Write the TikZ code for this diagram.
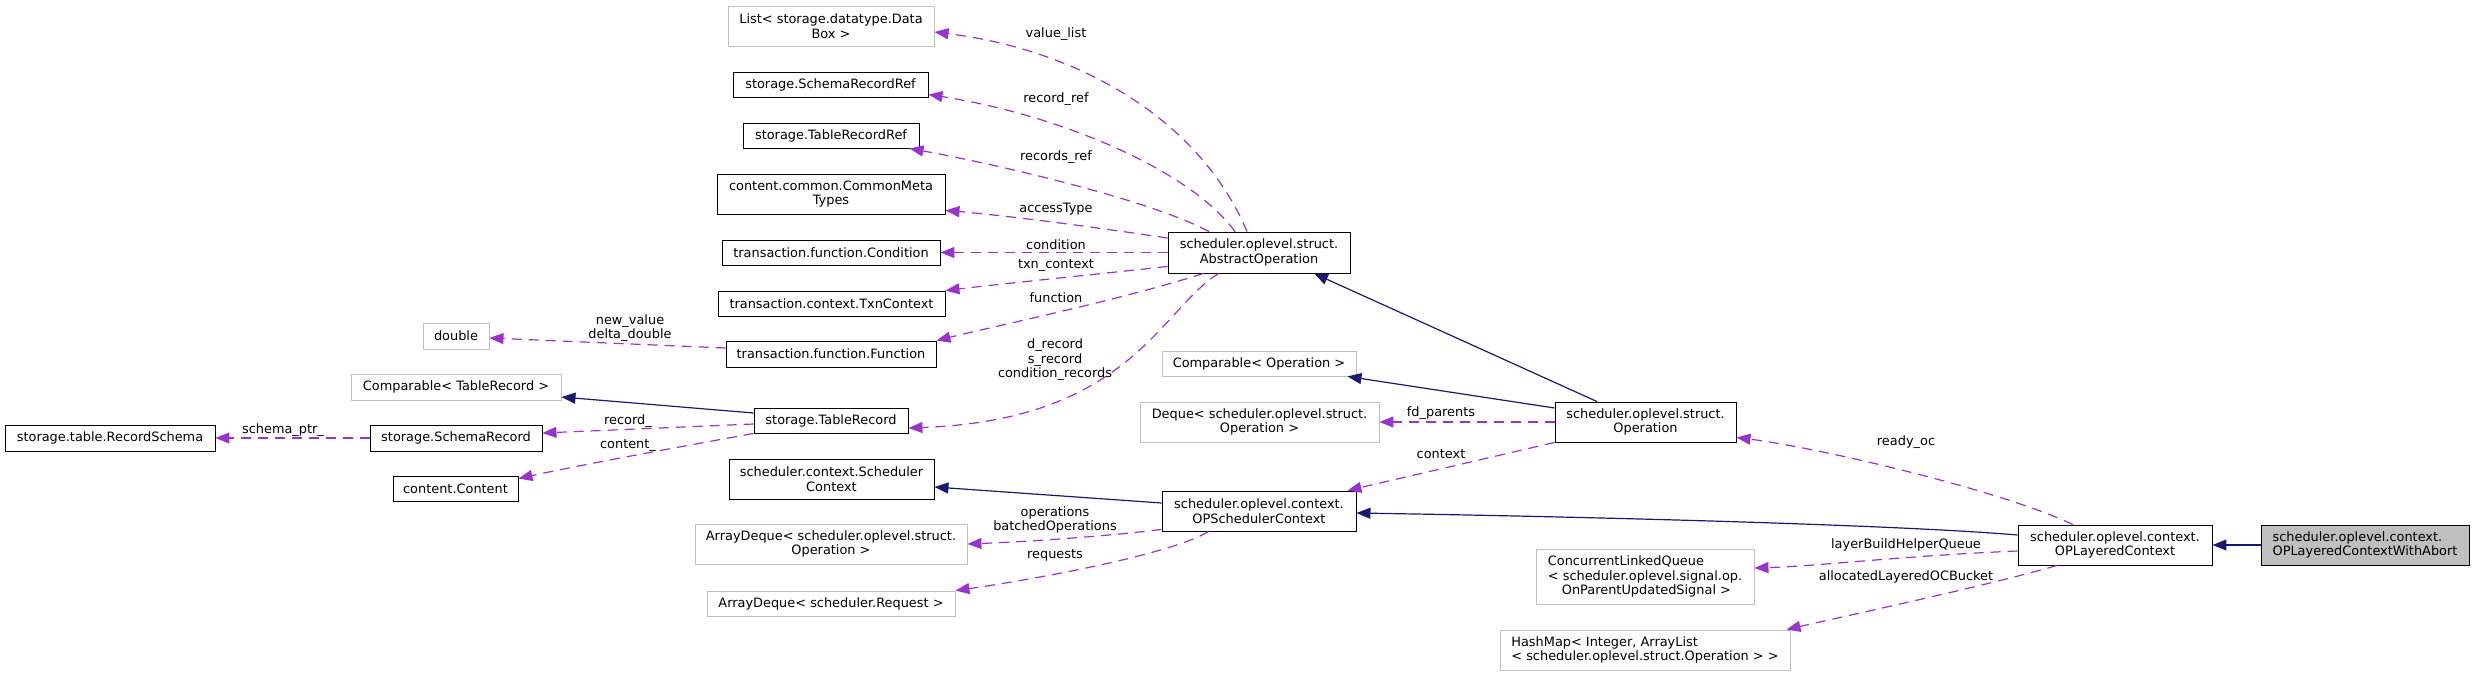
\documentclass[tikz,border=0pt]{standalone}
\usepackage{fontspec}
\setmainfont{DejaVu Sans}
\usetikzlibrary{arrows.meta}
\definecolor{usecol}{HTML}{9A32CD}
\definecolor{inhcol}{HTML}{191970}
\definecolor{grayb}{HTML}{BFBFBF}
\tikzset{
  cls/.style={draw=black, line width=0.9pt, fill=white, inner sep=0pt, align=center, font=\fontsize{12.9}{14.5}\selectfont},
  ucls/.style={cls, draw=grayb},
  maincls/.style={cls, fill=grayb},
  uses/.style={draw=usecol, line width=1.2pt, dash pattern=on 10pt off 7pt, -{Triangle[length=14pt,width=11pt,fill=usecol]}},
  inh/.style={draw=inhcol, line width=1.2pt, -{Triangle[length=14pt,width=11pt,fill=inhcol]}},
  lbl/.style={inner sep=0pt, align=center, font=\fontsize{12.9}{14.5}\selectfont}
}
\begin{document}
\begin{tikzpicture}[x=1pt,y=-1pt]
\useasboundingbox (0,0) rectangle (2475,676);
% nodes
\node[ucls, minimum width=206pt, minimum height=40pt] (list) at (831,26) {List< storage.datatype.Data\\Box >};
\node[cls, minimum width=195pt, minimum height=25pt] (srr) at (830.5,84.5) {storage.SchemaRecordRef};
\node[cls, minimum width=176pt, minimum height=25pt] (trr) at (831,135.5) {storage.TableRecordRef};
\node[cls, minimum width=228pt, minimum height=40pt] (cmt) at (831,194) {content.common.CommonMeta\\Types};
\node[cls, minimum width=218pt, minimum height=25pt] (cond) at (831,252.5) {transaction.function.Condition};
\node[cls, minimum width=227pt, minimum height=25pt] (txn) at (831.5,303.5) {transaction.context.TxnContext};
\node[ucls, minimum width=66pt, minimum height=26pt] (dbl) at (456,336) {double};
\node[cls, minimum width=210pt, minimum height=26pt] (func) at (831,354) {transaction.function.Function};
\node[ucls, minimum width=210pt, minimum height=26pt] (cmptr) at (456,387) {Comparable< TableRecord >};
\node[cls, minimum width=154pt, minimum height=25pt] (tr) at (831,420.5) {storage.TableRecord};
\node[cls, minimum width=210pt, minimum height=26pt] (rs) at (110,438) {storage.table.RecordSchema};
\node[cls, minimum width=172pt, minimum height=26pt] (sr) at (456,438) {storage.SchemaRecord};
\node[cls, minimum width=125pt, minimum height=25pt] (cont) at (455.5,488.5) {content.Content};
\node[cls, minimum width=205pt, minimum height=40pt] (sc) at (831.5,479) {scheduler.context.Scheduler\\Context};
\node[ucls, minimum width=272pt, minimum height=40pt] (adop) at (831,544) {ArrayDeque< scheduler.oplevel.struct.\\Operation >};
\node[ucls, minimum width=248pt, minimum height=25pt] (adreq) at (831,603.5) {ArrayDeque< scheduler.Request >};
\node[cls, minimum width=182pt, minimum height=41pt] (ao) at (1259,252.5) {scheduler.oplevel.struct.\\AbstractOperation};
\node[ucls, minimum width=194pt, minimum height=25pt] (cmpop) at (1259,363.5) {Comparable< Operation >};
\node[ucls, minimum width=239pt, minimum height=40pt] (deq) at (1259.5,422) {Deque< scheduler.oplevel.struct.\\Operation >};
\node[cls, minimum width=181pt, minimum height=40pt] (op) at (1645.5,422) {scheduler.oplevel.struct.\\Operation};
\node[cls, minimum width=194pt, minimum height=40pt] (opsc) at (1259,511) {scheduler.oplevel.context.\\OPSchedulerContext};
\node[ucls, minimum width=218pt, minimum height=55pt, align=left] (clq) at (1645,576.5) {ConcurrentLinkedQueue\\< scheduler.oplevel.signal.op.\\\hspace*{14pt}OnParentUpdatedSignal >};
\node[ucls, minimum width=290pt, minimum height=40pt, align=left] (hm) at (1645,650) {HashMap< Integer, ArrayList\\< scheduler.oplevel.struct.Operation > >};
\node[cls, minimum width=194pt, minimum height=40pt] (olc) at (2115,545) {scheduler.oplevel.context.\\OPLayeredContext};
\node[maincls, minimum width=208pt, minimum height=40pt, align=left] (olcwa) at (2365,545) {scheduler.oplevel.context.\\OPLayeredContextWithAbort};
% AbstractOperation uses
\draw[uses] ([xshift=-12pt]ao.north) .. controls (1200,120) and (1080,50) .. ([yshift=-6pt]list.east);
\node[lbl] (l1) at (1056,34) {value\_list};
\draw[uses] ([xshift=-24pt]ao.north) .. controls (1190,170) and (1060,115) .. ([yshift=-10pt]srr.east);
\node[lbl] (l2) at (1056,99) {record\_ref};
\draw[uses] ([xshift=-50pt]ao.north) .. controls (1150,200) and (1000,165) .. ([xshift=-10pt]trr.south east);
\node[lbl] (l3) at (1056,157) {records\_ref};
\draw[uses] ([yshift=-6.5pt]ao.north west) .. controls (1080,225) and (1000,215) .. ([yshift=4pt]cmt.south east);
\node[lbl] (l4) at (1056,209) {accessType};
\draw[uses] (ao.west) -- (cond.east);
\node[lbl] (l5) at (1056,245) {condition};
\draw[uses] ([yshift=7pt]ao.south west) .. controls (1080,276) and (1000,284) .. (txn.north east);
\node[lbl] (l6) at (1056,265) {txn\_context};
\draw[uses] ([xshift=36pt]ao.south west) .. controls (1120,300) and (1000,325) .. (func.north east);
\node[lbl] (l7) at (1056,298) {function};
\draw[uses] ([xshift=51pt]ao.south west) .. controls (1160,310) and (1130,420) .. ([yshift=-7.5pt]tr.east);
\node[lbl] (l8) at (1055,360) {d\_record\\s\_record\\condition\_records};
% Function -> double
\draw[uses] ([yshift=6pt]func.west) -- ([yshift=-2pt]dbl.east);
\node[lbl] (l9) at (630,328) {new\_value\\delta\_double};
% TableRecord
\draw[inh] ([yshift=7.5pt]tr.west) -- ([yshift=-10pt]cmptr.east);
\draw[uses] ([yshift=-3.5pt]tr.west) -- ([yshift=5pt]sr.east);
\node[lbl] (l10) at (628,421) {record\_};
\draw[uses] (tr.south west) .. controls (690,445) and (580,465) .. ([yshift=-3pt]cont.north east);
\node[lbl] (l11) at (628,445) {content\_};
\draw[uses] (sr.west) -- (rs.east);
\node[lbl] (l12) at (283,430) {schema\_ptr\_};
% Operation
\draw[inh] ([xshift=-48.5pt]op.north) -- ([xshift=55pt]ao.south);
\draw[inh] ([yshift=14pt]op.west) -- ([xshift=-9pt]cmpop.south east);
\draw[uses] (op.west) -- (deq.east);
\node[lbl] (l13) at (1441,413) {fd\_parents};
\draw[uses] (op.south west) -- ([xshift=-9pt]opsc.north east);
\node[lbl] (l14) at (1441,454) {context};
% OPSchedulerContext
\draw[inh] ([yshift=8pt]opsc.west) -- ([yshift=-8pt]sc.east);
\draw[uses] ([yshift=2pt]opsc.south west) .. controls (1100,537) and (1020,542) .. (adop.east);
\node[lbl] (l15) at (1055,520) {operations\\batchedOperations};
\draw[uses] ([xshift=47pt]opsc.south west) .. controls (1170,555) and (1030,580) .. (adreq.north east);
\node[lbl] (l16) at (1055,555) {requests};
% OPLayeredContext
\draw[inh] ([yshift=10pt]olc.west) .. controls (1900,525) and (1600,517) .. ([yshift=-2pt]opsc.east);
\draw[inh] (olcwa.west) -- (olc.east);
\draw[uses] ([xshift=-42pt]olc.north) .. controls (2000,490) and (1820,448) .. ([yshift=5pt]op.south east);
\node[lbl] (l17) at (1906,442) {ready\_oc};
\draw[uses] ([yshift=-6pt]olc.west) .. controls (1900,556) and (1820,566) .. ([yshift=8.5pt]clq.east);
\node[lbl] (l18) at (1906,545) {layerBuildHelperQueue};
\draw[uses] ([xshift=-58pt]olc.south) .. controls (1990,585) and (1850,615) .. ([xshift=-4pt]hm.north east);
\node[lbl] (l19) at (1906,577) {allocatedLayeredOCBucket};
\end{tikzpicture}
\end{document}
